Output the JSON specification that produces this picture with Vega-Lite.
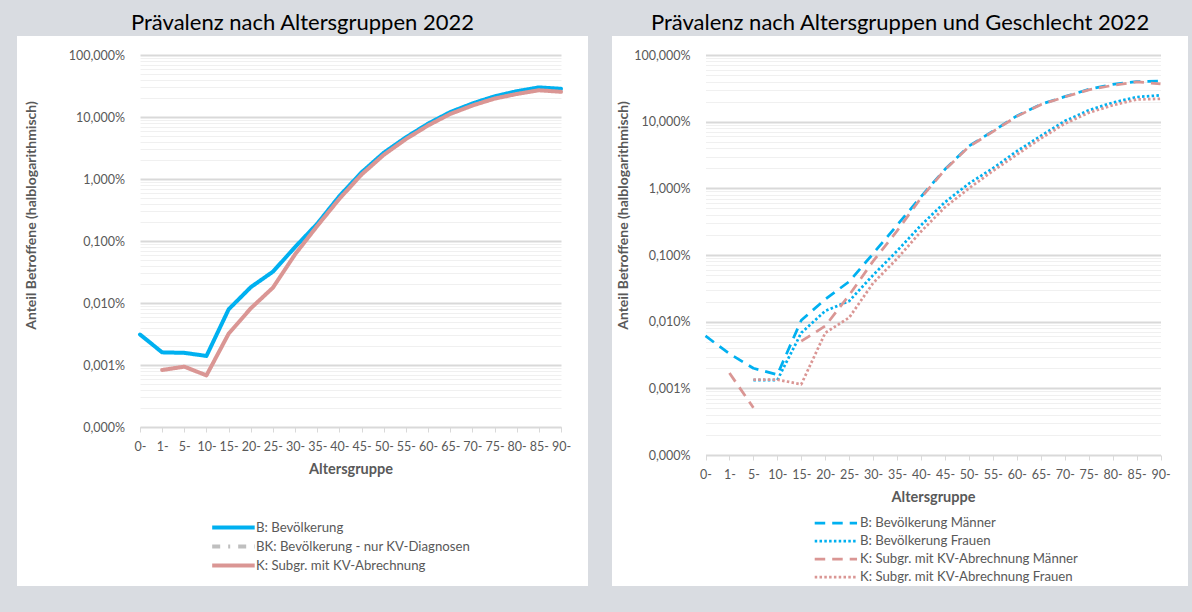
{
  "$schema": "https://vega.github.io/schema/vega-lite/v6.json",
  "background": "#d9dce1",
  "padding": {"left": 17, "top": 12, "right": 4, "bottom": 27},
  "spacing": 24,
  "config": {
    "font": "Lato",
    "view": {"fill": "white", "stroke": null},
    "axis": {"labelFont": "Lato", "labelFontSize": 12.5, "labelColor": "#595959", "titleFont": "Lato", "titleFontWeight": "bold", "titleColor": "#595959", "domainColor": "#d9d9d9", "tickColor": "#d9d9d9", "labelOverlap": false},
    "axisX": {"labelAngle": 0, "tickSize": 5, "labelPadding": 8.5, "titleFontSize": 14.5, "titlePadding": 9, "grid": false},
    "axisY": {"domain": false, "ticks": false, "titleFontSize": 14, "grid": true},
    "legend": {"labelFont": "Lato", "labelFontSize": 13.2, "labelColor": "#595959", "padding": 0, "symbolType": "M-1,0H7", "labelLimit": 0}
  },
  "datasets": {
    "links": [
      {"Altersgruppe": "0-", "Reihe": "B: Bevölkerung", "Anteil": 0.0031},
      {"Altersgruppe": "1-", "Reihe": "B: Bevölkerung", "Anteil": 0.0016},
      {"Altersgruppe": "5-", "Reihe": "B: Bevölkerung", "Anteil": 0.00157},
      {"Altersgruppe": "10-", "Reihe": "B: Bevölkerung", "Anteil": 0.0014},
      {"Altersgruppe": "15-", "Reihe": "B: Bevölkerung", "Anteil": 0.0079},
      {"Altersgruppe": "20-", "Reihe": "B: Bevölkerung", "Anteil": 0.018},
      {"Altersgruppe": "25-", "Reihe": "B: Bevölkerung", "Anteil": 0.032},
      {"Altersgruppe": "30-", "Reihe": "B: Bevölkerung", "Anteil": 0.08},
      {"Altersgruppe": "35-", "Reihe": "B: Bevölkerung", "Anteil": 0.19},
      {"Altersgruppe": "40-", "Reihe": "B: Bevölkerung", "Anteil": 0.53},
      {"Altersgruppe": "45-", "Reihe": "B: Bevölkerung", "Anteil": 1.28},
      {"Altersgruppe": "50-", "Reihe": "B: Bevölkerung", "Anteil": 2.65},
      {"Altersgruppe": "55-", "Reihe": "B: Bevölkerung", "Anteil": 4.7},
      {"Altersgruppe": "60-", "Reihe": "B: Bevölkerung", "Anteil": 7.8},
      {"Altersgruppe": "65-", "Reihe": "B: Bevölkerung", "Anteil": 12},
      {"Altersgruppe": "70-", "Reihe": "B: Bevölkerung", "Anteil": 16.5},
      {"Altersgruppe": "75-", "Reihe": "B: Bevölkerung", "Anteil": 21.5},
      {"Altersgruppe": "80-", "Reihe": "B: Bevölkerung", "Anteil": 26},
      {"Altersgruppe": "85-", "Reihe": "B: Bevölkerung", "Anteil": 30},
      {"Altersgruppe": "90-", "Reihe": "B: Bevölkerung", "Anteil": 28.5},
      {"Altersgruppe": "1-", "Reihe": "K: Subgr. mit KV-Abrechnung", "Anteil": 0.00083},
      {"Altersgruppe": "5-", "Reihe": "K: Subgr. mit KV-Abrechnung", "Anteil": 0.00094},
      {"Altersgruppe": "10-", "Reihe": "K: Subgr. mit KV-Abrechnung", "Anteil": 0.00068},
      {"Altersgruppe": "15-", "Reihe": "K: Subgr. mit KV-Abrechnung", "Anteil": 0.0032},
      {"Altersgruppe": "20-", "Reihe": "K: Subgr. mit KV-Abrechnung", "Anteil": 0.0082},
      {"Altersgruppe": "25-", "Reihe": "K: Subgr. mit KV-Abrechnung", "Anteil": 0.0177},
      {"Altersgruppe": "30-", "Reihe": "K: Subgr. mit KV-Abrechnung", "Anteil": 0.061},
      {"Altersgruppe": "35-", "Reihe": "K: Subgr. mit KV-Abrechnung", "Anteil": 0.175},
      {"Altersgruppe": "40-", "Reihe": "K: Subgr. mit KV-Abrechnung", "Anteil": 0.48},
      {"Altersgruppe": "45-", "Reihe": "K: Subgr. mit KV-Abrechnung", "Anteil": 1.18},
      {"Altersgruppe": "50-", "Reihe": "K: Subgr. mit KV-Abrechnung", "Anteil": 2.45},
      {"Altersgruppe": "55-", "Reihe": "K: Subgr. mit KV-Abrechnung", "Anteil": 4.4},
      {"Altersgruppe": "60-", "Reihe": "K: Subgr. mit KV-Abrechnung", "Anteil": 7.3},
      {"Altersgruppe": "65-", "Reihe": "K: Subgr. mit KV-Abrechnung", "Anteil": 11.2},
      {"Altersgruppe": "70-", "Reihe": "K: Subgr. mit KV-Abrechnung", "Anteil": 15.3},
      {"Altersgruppe": "75-", "Reihe": "K: Subgr. mit KV-Abrechnung", "Anteil": 19.8},
      {"Altersgruppe": "80-", "Reihe": "K: Subgr. mit KV-Abrechnung", "Anteil": 23.5},
      {"Altersgruppe": "85-", "Reihe": "K: Subgr. mit KV-Abrechnung", "Anteil": 27},
      {"Altersgruppe": "90-", "Reihe": "K: Subgr. mit KV-Abrechnung", "Anteil": 25.5}
    ],
    "rechts": [
      {"Altersgruppe": "0-", "Reihe": "B: Bevölkerung Männer", "Anteil": 0.0061},
      {"Altersgruppe": "1-", "Reihe": "B: Bevölkerung Männer", "Anteil": 0.0033},
      {"Altersgruppe": "5-", "Reihe": "B: Bevölkerung Männer", "Anteil": 0.002},
      {"Altersgruppe": "10-", "Reihe": "B: Bevölkerung Männer", "Anteil": 0.0016},
      {"Altersgruppe": "15-", "Reihe": "B: Bevölkerung Männer", "Anteil": 0.0105},
      {"Altersgruppe": "20-", "Reihe": "B: Bevölkerung Männer", "Anteil": 0.0216},
      {"Altersgruppe": "25-", "Reihe": "B: Bevölkerung Männer", "Anteil": 0.04},
      {"Altersgruppe": "30-", "Reihe": "B: Bevölkerung Männer", "Anteil": 0.105},
      {"Altersgruppe": "35-", "Reihe": "B: Bevölkerung Männer", "Anteil": 0.28},
      {"Altersgruppe": "40-", "Reihe": "B: Bevölkerung Männer", "Anteil": 0.75},
      {"Altersgruppe": "45-", "Reihe": "B: Bevölkerung Männer", "Anteil": 1.93},
      {"Altersgruppe": "50-", "Reihe": "B: Bevölkerung Männer", "Anteil": 4.3},
      {"Altersgruppe": "55-", "Reihe": "B: Bevölkerung Männer", "Anteil": 7.2},
      {"Altersgruppe": "60-", "Reihe": "B: Bevölkerung Männer", "Anteil": 12.2},
      {"Altersgruppe": "65-", "Reihe": "B: Bevölkerung Männer", "Anteil": 18.2},
      {"Altersgruppe": "70-", "Reihe": "B: Bevölkerung Männer", "Anteil": 23.7},
      {"Altersgruppe": "75-", "Reihe": "B: Bevölkerung Männer", "Anteil": 30.5},
      {"Altersgruppe": "80-", "Reihe": "B: Bevölkerung Männer", "Anteil": 36.3},
      {"Altersgruppe": "85-", "Reihe": "B: Bevölkerung Männer", "Anteil": 39.8},
      {"Altersgruppe": "90-", "Reihe": "B: Bevölkerung Männer", "Anteil": 40.8},
      {"Altersgruppe": "5-", "Reihe": "B: Bevölkerung Frauen", "Anteil": 0.00133},
      {"Altersgruppe": "10-", "Reihe": "B: Bevölkerung Frauen", "Anteil": 0.00133},
      {"Altersgruppe": "15-", "Reihe": "B: Bevölkerung Frauen", "Anteil": 0.0068},
      {"Altersgruppe": "20-", "Reihe": "B: Bevölkerung Frauen", "Anteil": 0.0145},
      {"Altersgruppe": "25-", "Reihe": "B: Bevölkerung Frauen", "Anteil": 0.0204},
      {"Altersgruppe": "30-", "Reihe": "B: Bevölkerung Frauen", "Anteil": 0.05},
      {"Altersgruppe": "35-", "Reihe": "B: Bevölkerung Frauen", "Anteil": 0.115},
      {"Altersgruppe": "40-", "Reihe": "B: Bevölkerung Frauen", "Anteil": 0.28},
      {"Altersgruppe": "45-", "Reihe": "B: Bevölkerung Frauen", "Anteil": 0.62},
      {"Altersgruppe": "50-", "Reihe": "B: Bevölkerung Frauen", "Anteil": 1.18},
      {"Altersgruppe": "55-", "Reihe": "B: Bevölkerung Frauen", "Anteil": 2.0},
      {"Altersgruppe": "60-", "Reihe": "B: Bevölkerung Frauen", "Anteil": 3.6},
      {"Altersgruppe": "65-", "Reihe": "B: Bevölkerung Frauen", "Anteil": 6.1},
      {"Altersgruppe": "70-", "Reihe": "B: Bevölkerung Frauen", "Anteil": 10.2},
      {"Altersgruppe": "75-", "Reihe": "B: Bevölkerung Frauen", "Anteil": 14.8},
      {"Altersgruppe": "80-", "Reihe": "B: Bevölkerung Frauen", "Anteil": 19.3},
      {"Altersgruppe": "85-", "Reihe": "B: Bevölkerung Frauen", "Anteil": 23.4},
      {"Altersgruppe": "90-", "Reihe": "B: Bevölkerung Frauen", "Anteil": 24.8},
      {"Altersgruppe": "1-", "Reihe": "K: Subgr. mit KV-Abrechnung Männer", "Teil": "a", "Anteil": 0.0017},
      {"Altersgruppe": "5-", "Reihe": "K: Subgr. mit KV-Abrechnung Männer", "Teil": "a", "Anteil": 0.00051},
      {"Altersgruppe": "15-", "Reihe": "K: Subgr. mit KV-Abrechnung Männer", "Teil": "b", "Anteil": 0.0051},
      {"Altersgruppe": "20-", "Reihe": "K: Subgr. mit KV-Abrechnung Männer", "Teil": "b", "Anteil": 0.0086},
      {"Altersgruppe": "25-", "Reihe": "K: Subgr. mit KV-Abrechnung Männer", "Teil": "b", "Anteil": 0.025},
      {"Altersgruppe": "30-", "Reihe": "K: Subgr. mit KV-Abrechnung Männer", "Teil": "b", "Anteil": 0.081},
      {"Altersgruppe": "35-", "Reihe": "K: Subgr. mit KV-Abrechnung Männer", "Teil": "b", "Anteil": 0.23},
      {"Altersgruppe": "40-", "Reihe": "K: Subgr. mit KV-Abrechnung Männer", "Teil": "b", "Anteil": 0.72},
      {"Altersgruppe": "45-", "Reihe": "K: Subgr. mit KV-Abrechnung Männer", "Teil": "b", "Anteil": 1.9},
      {"Altersgruppe": "50-", "Reihe": "K: Subgr. mit KV-Abrechnung Männer", "Teil": "b", "Anteil": 4.2},
      {"Altersgruppe": "55-", "Reihe": "K: Subgr. mit KV-Abrechnung Männer", "Teil": "b", "Anteil": 7.1},
      {"Altersgruppe": "60-", "Reihe": "K: Subgr. mit KV-Abrechnung Männer", "Teil": "b", "Anteil": 12},
      {"Altersgruppe": "65-", "Reihe": "K: Subgr. mit KV-Abrechnung Männer", "Teil": "b", "Anteil": 18},
      {"Altersgruppe": "70-", "Reihe": "K: Subgr. mit KV-Abrechnung Männer", "Teil": "b", "Anteil": 23.5},
      {"Altersgruppe": "75-", "Reihe": "K: Subgr. mit KV-Abrechnung Männer", "Teil": "b", "Anteil": 30},
      {"Altersgruppe": "80-", "Reihe": "K: Subgr. mit KV-Abrechnung Männer", "Teil": "b", "Anteil": 35},
      {"Altersgruppe": "85-", "Reihe": "K: Subgr. mit KV-Abrechnung Männer", "Teil": "b", "Anteil": 39.5},
      {"Altersgruppe": "90-", "Reihe": "K: Subgr. mit KV-Abrechnung Männer", "Teil": "b", "Anteil": 37},
      {"Altersgruppe": "5-", "Reihe": "K: Subgr. mit KV-Abrechnung Frauen", "Anteil": 0.00135},
      {"Altersgruppe": "10-", "Reihe": "K: Subgr. mit KV-Abrechnung Frauen", "Anteil": 0.00135},
      {"Altersgruppe": "15-", "Reihe": "K: Subgr. mit KV-Abrechnung Frauen", "Anteil": 0.00115},
      {"Altersgruppe": "20-", "Reihe": "K: Subgr. mit KV-Abrechnung Frauen", "Anteil": 0.0068},
      {"Altersgruppe": "25-", "Reihe": "K: Subgr. mit KV-Abrechnung Frauen", "Anteil": 0.0115},
      {"Altersgruppe": "30-", "Reihe": "K: Subgr. mit KV-Abrechnung Frauen", "Anteil": 0.038},
      {"Altersgruppe": "35-", "Reihe": "K: Subgr. mit KV-Abrechnung Frauen", "Anteil": 0.088},
      {"Altersgruppe": "40-", "Reihe": "K: Subgr. mit KV-Abrechnung Frauen", "Anteil": 0.225},
      {"Altersgruppe": "45-", "Reihe": "K: Subgr. mit KV-Abrechnung Frauen", "Anteil": 0.52},
      {"Altersgruppe": "50-", "Reihe": "K: Subgr. mit KV-Abrechnung Frauen", "Anteil": 1.0},
      {"Altersgruppe": "55-", "Reihe": "K: Subgr. mit KV-Abrechnung Frauen", "Anteil": 1.82},
      {"Altersgruppe": "60-", "Reihe": "K: Subgr. mit KV-Abrechnung Frauen", "Anteil": 3.2},
      {"Altersgruppe": "65-", "Reihe": "K: Subgr. mit KV-Abrechnung Frauen", "Anteil": 5.6},
      {"Altersgruppe": "70-", "Reihe": "K: Subgr. mit KV-Abrechnung Frauen", "Anteil": 9.3},
      {"Altersgruppe": "75-", "Reihe": "K: Subgr. mit KV-Abrechnung Frauen", "Anteil": 13.6},
      {"Altersgruppe": "80-", "Reihe": "K: Subgr. mit KV-Abrechnung Frauen", "Anteil": 17.6},
      {"Altersgruppe": "85-", "Reihe": "K: Subgr. mit KV-Abrechnung Frauen", "Anteil": 21.5},
      {"Altersgruppe": "90-", "Reihe": "K: Subgr. mit KV-Abrechnung Frauen", "Anteil": 22}
    ]
  },
  "hconcat": [
    {
      "width": 571,
      "height": 550,
      "title": {"text": "Prävalenz nach Altersgruppen 2022", "font": "Lato", "fontSize": 22, "fontWeight": "normal", "color": "#000000", "anchor": "middle", "offset": 1},
      "data": {"name": "links"},
      "mark": {"type": "line", "strokeWidth": 4, "strokeCap": "round", "strokeJoin": "round"},
      "encoding": {
        "x": {
          "field": "Altersgruppe", "type": "ordinal",
          "scale": {"type": "point", "domain": ["0-","1-","5-","10-","15-","20-","25-","30-","35-","40-","45-","50-","55-","60-","65-","70-","75-","80-","85-","90-"], "range": [123, 544], "padding": 0},
          "axis": {"title": "Altersgruppe", "offset": -159}
        },
        "y": {
          "field": "Anteil", "type": "quantitative",
          "scale": {"type": "log", "domain": [0.0001, 100], "range": [391, 19], "nice": false},
          "axis": {
            "title": "Anteil Betroffene (halblogarithmisch)",
            "offset": -123,
            "labelPadding": 15.5,
            "titleX": -102, "titleY": 179, "titleAngle": -90, "titleAlign": "center", "titleBaseline": "bottom",
            "values": [0.0001,0.0002,0.0003,0.0004,0.0005,0.0006,0.0007,0.0008,0.0009,0.001,0.002,0.003,0.004,0.005,0.006,0.007,0.008,0.009,0.01,0.02,0.03,0.04,0.05,0.06,0.07,0.08,0.09,0.1,0.2,0.3,0.4,0.5,0.6,0.7,0.8,0.9,1,2,3,4,5,6,7,8,9,10,20,30,40,50,60,70,80,90,100],
            "labelExpr": "abs(log(datum.value)/LN10 - round(log(datum.value)/LN10)) < 0.001 ? replace(format(datum.value, '.3f'), '.', ',') + '%' : ''",
            "gridColor": {"condition": {"test": "abs(log(datum.value)/LN10 - round(log(datum.value)/LN10)) < 0.001", "value": "#d9d9d9"}, "value": "#f0f0f0"},
            "gridWidth": {"condition": {"test": "abs(log(datum.value)/LN10 - round(log(datum.value)/LN10)) < 0.001", "value": 2}, "value": 1}
          }
        },
        "color": {
          "field": "Reihe", "type": "nominal",
          "scale": {"domain": ["B: Bevölkerung", "BK: Bevölkerung - nur KV-Diagnosen", "K: Subgr. mit KV-Abrechnung"], "range": ["#00b0f0", "#bfbfbf", "#da9694"]},
          "legend": {"title": null, "orient": "none", "legendX": 193, "legendY": 484, "symbolSize": 113, "symbolStrokeWidth": 4, "labelOffset": 31, "rowPadding": 2}
        },
        "strokeDash": {
          "field": "Reihe", "type": "nominal",
          "scale": {"domain": ["B: Bevölkerung", "BK: Bevölkerung - nur KV-Diagnosen", "K: Subgr. mit KV-Abrechnung"], "range": [[1, 0], [8, 8, 2, 8], [1, 0]]},
          "legend": {"title": null, "orient": "none", "legendX": 193, "legendY": 484, "symbolSize": 113, "symbolStrokeWidth": 4, "labelOffset": 31, "rowPadding": 2}
        },
        "order": {"value": null}
      }
    },
    {
      "width": 576,
      "height": 550,
      "title": {"text": "Prävalenz nach Altersgruppen und Geschlecht 2022", "font": "Lato", "fontSize": 22, "fontWeight": "normal", "color": "#000000", "anchor": "middle", "offset": 1},
      "data": {"name": "rechts"},
      "mark": {"type": "line", "strokeWidth": 2.75, "strokeCap": "butt", "strokeJoin": "round"},
      "encoding": {
        "x": {
          "field": "Altersgruppe", "type": "ordinal",
          "scale": {"type": "point", "domain": ["0-","1-","5-","10-","15-","20-","25-","30-","35-","40-","45-","50-","55-","60-","65-","70-","75-","80-","85-","90-"], "range": [93.5, 548.5], "padding": 0},
          "axis": {"title": "Altersgruppe", "offset": -131}
        },
        "y": {
          "field": "Anteil", "type": "quantitative",
          "scale": {"type": "log", "domain": [0.0001, 100], "range": [419, 19], "nice": false},
          "axis": {
            "title": "Anteil Betroffene (halblogarithmisch)",
            "offset": -93.5,
            "labelPadding": 15.5,
            "titleX": -75.5, "titleY": 179, "titleAngle": -90, "titleAlign": "center", "titleBaseline": "bottom",
            "values": [0.0001,0.0002,0.0003,0.0004,0.0005,0.0006,0.0007,0.0008,0.0009,0.001,0.002,0.003,0.004,0.005,0.006,0.007,0.008,0.009,0.01,0.02,0.03,0.04,0.05,0.06,0.07,0.08,0.09,0.1,0.2,0.3,0.4,0.5,0.6,0.7,0.8,0.9,1,2,3,4,5,6,7,8,9,10,20,30,40,50,60,70,80,90,100],
            "labelExpr": "abs(log(datum.value)/LN10 - round(log(datum.value)/LN10)) < 0.001 ? replace(format(datum.value, '.3f'), '.', ',') + '%' : ''",
            "gridColor": {"condition": {"test": "abs(log(datum.value)/LN10 - round(log(datum.value)/LN10)) < 0.001", "value": "#d9d9d9"}, "value": "#f0f0f0"},
            "gridWidth": {"condition": {"test": "abs(log(datum.value)/LN10 - round(log(datum.value)/LN10)) < 0.001", "value": 2}, "value": 1}
          }
        },
        "color": {
          "field": "Reihe", "type": "nominal",
          "scale": {"domain": ["B: Bevölkerung Männer", "B: Bevölkerung Frauen", "K: Subgr. mit KV-Abrechnung Männer", "K: Subgr. mit KV-Abrechnung Frauen"], "range": ["#00b0f0", "#00b0f0", "#da9694", "#da9694"]},
          "legend": {"title": null, "orient": "none", "legendX": 201, "legendY": 480, "symbolSize": 112, "symbolStrokeWidth": 2.75, "labelOffset": 33, "rowPadding": 4}
        },
        "strokeDash": {
          "field": "Reihe", "type": "nominal",
          "scale": {"domain": ["B: Bevölkerung Männer", "B: Bevölkerung Frauen", "K: Subgr. mit KV-Abrechnung Männer", "K: Subgr. mit KV-Abrechnung Frauen"], "range": [[10.5, 7], [2.5, 2.3], [10.5, 7], [2.5, 2.3]]},
          "legend": {"title": null, "orient": "none", "legendX": 201, "legendY": 480, "symbolSize": 112, "symbolStrokeWidth": 2.75, "labelOffset": 33, "rowPadding": 4}
        },
        "detail": {"field": "Teil"},
        "order": {"value": null}
      }
    }
  ],
  "resolve": {
    "scale": {"x": "independent", "y": "independent", "color": "independent", "strokeDash": "independent"},
    "legend": {"color": "independent", "strokeDash": "independent"}
  }
}
